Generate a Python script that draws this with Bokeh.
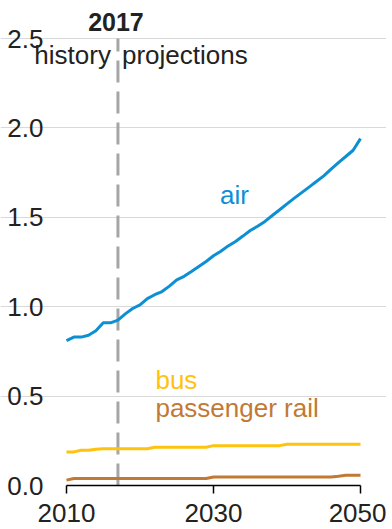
from bokeh.plotting import figure
from bokeh.models import (FixedTicker, PrintfTickFormatter, Label, Range1d,
                          LinearAxis, Grid)
from bokeh.embed import file_html
from bokeh.resources import INLINE

years = list(range(2010, 2051))
air = [0.81, 0.83, 0.83, 0.84, 0.865, 0.91, 0.91, 0.925, 0.96, 0.99,
       1.01, 1.045, 1.067, 1.085, 1.115, 1.15, 1.17, 1.197, 1.225, 1.253,
       1.285, 1.31, 1.34, 1.365, 1.395, 1.426, 1.45, 1.477, 1.51, 1.542,
       1.575, 1.607, 1.638, 1.669, 1.70, 1.732, 1.77, 1.806, 1.84, 1.875, 1.94]
bus = [0.188, 0.188, 0.197, 0.197, 0.203, 0.206, 0.206, 0.206, 0.206, 0.206,
       0.206, 0.206, 0.214, 0.214, 0.214, 0.214, 0.214, 0.214, 0.214, 0.214,
       0.223, 0.223, 0.223, 0.223, 0.223, 0.223, 0.223, 0.223, 0.223, 0.223,
       0.231, 0.231, 0.231, 0.231, 0.231, 0.231, 0.231, 0.231, 0.231, 0.231, 0.231]
rail = [0.03] + [0.039] * 19 + [0.048] * 17 + [0.052] + [0.057] * 3

y_ticks = [0.0, 0.5, 1.0, 1.5, 2.0, 2.5]
x_ticks = [2010, 2030, 2050]
x_start, x_end = 2010, 2050
y_top = 2.5
divider_year = 2017

AIR_C = "#0d8fd3"
BUS_C = "#ffc20e"
RAIL_C = "#c17a35"
TXT_C = "#222222"
FONT = "Liberation Sans"
FS = "26px"

# layout: the frame fills the whole figure; plot area placed by pixel geometry
W, H = 386, 526
left_px, right_px = 66, 360      # 2010 / 2050 positions inside the figure
top_px, bottom_px = 38, 485      # 2.5 / 0.0 positions inside the figure
sx = (right_px - left_px) / (x_end - x_start)
sy = (bottom_px - top_px) / (y_top - 0.0)
x0 = x_start - left_px / sx
x1 = x0 + W / sx
y1 = bottom_px / sy
y0 = y1 - H / sy

p = figure(width=W, height=H, output_backend="svg", toolbar_location=None,
           x_range=Range1d(x0, x1), y_range=Range1d(y0, y1),
           x_axis_location=None, y_axis_location=None, min_border=0)
p.outline_line_color = None
p.background_fill_color = None
p.border_fill_color = None
p.xgrid.grid_line_color = None
p.ygrid.grid_line_color = None

grid = Grid(dimension=1, ticker=FixedTicker(ticks=y_ticks[1:]),
            bounds=(x_start, x_end), grid_line_color="#d9d9d9",
            grid_line_width=1)
p.add_layout(grid)

yaxis = LinearAxis(fixed_location=x_start, ticker=FixedTicker(ticks=y_ticks),
                   formatter=PrintfTickFormatter(format="%.1f"))
yaxis.axis_line_color = None
yaxis.major_tick_line_color = None
yaxis.minor_tick_line_color = None
yaxis.major_tick_out = 0
yaxis.major_tick_in = 0
yaxis.major_label_standoff = 23
yaxis.major_label_text_font = FONT
yaxis.major_label_text_font_size = FS
yaxis.major_label_text_color = TXT_C
p.add_layout(yaxis, "left")

xaxis = LinearAxis(fixed_location=0, ticker=FixedTicker(ticks=x_ticks),
                   bounds=(x_start, x_end))
xaxis.axis_line_color = "black"
xaxis.axis_line_width = 1.5
xaxis.major_tick_line_color = "black"
xaxis.major_tick_line_width = 1.5
xaxis.major_tick_out = 8
xaxis.major_tick_in = 0
xaxis.minor_tick_line_color = None
xaxis.major_label_standoff = 10
xaxis.major_label_text_font = FONT
xaxis.major_label_text_font_size = FS
xaxis.major_label_text_color = TXT_C
p.add_layout(xaxis, "below")

p.segment(x0=[divider_year], y0=[0], x1=[divider_year], y1=[y_top],
          line_color="#a6a6a6", line_width=3, line_dash="22 9")

p.line(years, rail, line_color=RAIL_C, line_width=3)
p.line(years, bus, line_color=BUS_C, line_width=3)
p.line(years, air, line_color=AIR_C, line_width=3)

def lab(x, y, t, color, align="left", bold=False, size=FS, xoff=0):
    p.add_layout(Label(x=x, y=y, text=t, text_color=color, text_font=FONT,
                       text_font_size=size, text_align=align, x_offset=xoff,
                       text_baseline="middle",
                       text_font_style="bold" if bold else "normal"))

lab(divider_year, 2.595, "2017", TXT_C, align="center", bold=True, size="25px", xoff=-2)
lab(divider_year, 2.41, "history", TXT_C, align="right", xoff=-7)
lab(divider_year, 2.41, "projections", TXT_C, align="left", xoff=4)
lab(2032.86, 1.627, "air", AIR_C, align="center")
lab(2022.1, 0.59, "bus", BUS_C)
lab(2022.1, 0.435, "passenger rail", RAIL_C)

open("out.html", "w").write(file_html(p, INLINE))
